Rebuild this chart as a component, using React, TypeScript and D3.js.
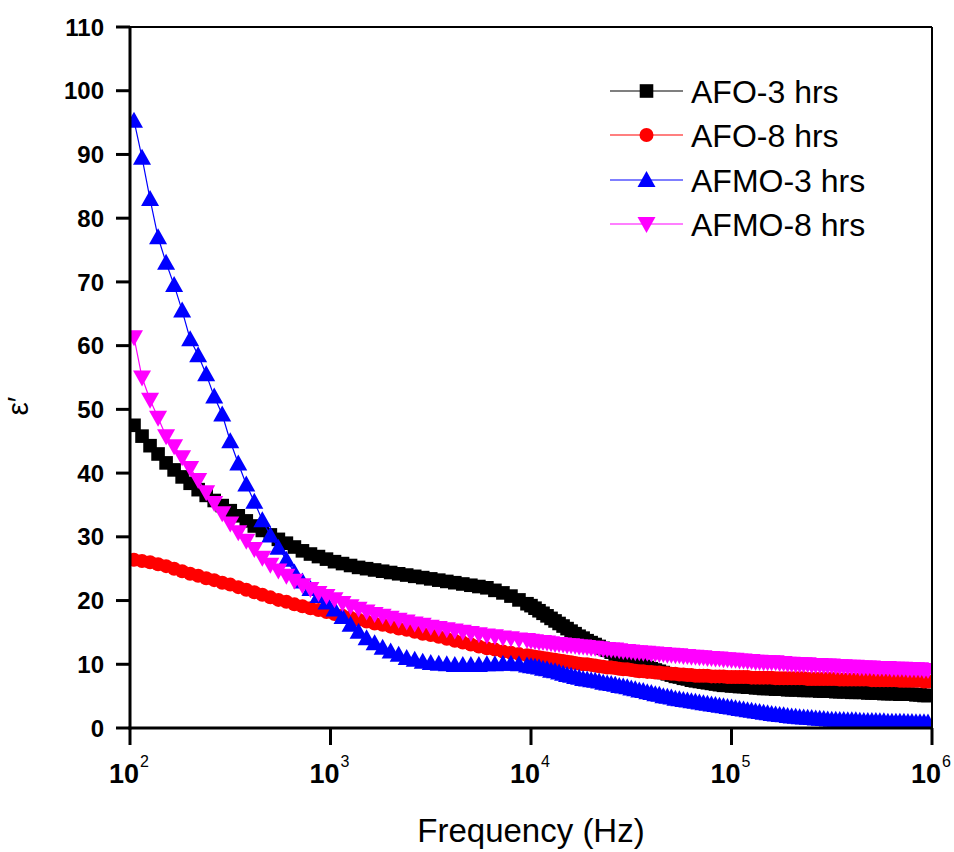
import React from "react";
import * as d3 from "d3";

// Frequency sweep grid (log10 of Hz): sparser below 10^4, denser above, as in the measurement
const LOG_FREQ: number[] = [
  ...d3.range(50).map((i) => +(2.02 + i * 0.04).toFixed(2)),
  ...d3.range(100).map((i) => +(4.0 + i * 0.02).toFixed(2)),
];

const AFO_3: number[] = [
  47.5, 45.8, 44.3, 43, 41.6, 40.5, 39.4, 38.4, 37.4, 36.5,
  35.7, 34.9, 34.1, 33.3, 32.5, 31.7, 31, 30.3, 29.6, 29,
  28.4, 27.8, 27.3, 26.9, 26.5, 26.1, 25.8, 25.5, 25.2, 25,
  24.8, 24.6, 24.4, 24.2, 24, 23.8, 23.6, 23.4, 23.2, 23,
  22.8, 22.6, 22.4, 22.2, 22, 21.6, 21.2, 20.7, 20.1, 19.5,
  19.2, 18.8, 18.4, 18, 17.6, 17.2, 16.8, 16.4, 16, 15.6,
  15.2, 14.8, 14.4, 14.1, 13.7, 13.4, 13.1, 12.8, 12.5, 12.2,
  11.9, 11.6, 11.3, 11, 10.7, 10.5, 10.2, 10, 9.7, 9.5,
  9.3, 9.1, 8.9, 8.7, 8.5, 8.3, 8.1, 8, 7.8, 7.7,
  7.5, 7.4, 7.3, 7.2, 7.1, 7, 6.9, 6.8, 6.7, 6.7,
  6.6, 6.6, 6.5, 6.5, 6.4, 6.4, 6.3, 6.3, 6.2, 6.2,
  6.2, 6.1, 6.1, 6.1, 6, 6, 6, 6, 5.9, 5.9,
  5.9, 5.9, 5.8, 5.8, 5.8, 5.8, 5.7, 5.7, 5.7, 5.7,
  5.6, 5.6, 5.6, 5.6, 5.5, 5.5, 5.5, 5.5, 5.4, 5.4,
  5.4, 5.4, 5.3, 5.3, 5.3, 5.3, 5.2, 5.2, 5.1, 5.1,
];

const AFO_8: number[] = [
  26.4, 26.2, 26, 25.7, 25.4, 25, 24.6, 24.2, 23.9, 23.5,
  23.2, 22.8, 22.5, 22.1, 21.7, 21.3, 20.9, 20.5, 20.1, 19.8,
  19.4, 19.1, 18.8, 18.5, 18.2, 17.9, 17.6, 17.3, 17, 16.7,
  16.4, 16.2, 15.9, 15.6, 15.4, 15.1, 14.8, 14.6, 14.3, 14,
  13.7, 13.4, 13.1, 12.8, 12.5, 12.3, 12, 11.8, 11.6, 11.4,
  11.3, 11.2, 11.1, 11, 10.9, 10.8, 10.7, 10.6, 10.5, 10.4,
  10.3, 10.2, 10.1, 10, 10, 9.9, 9.8, 9.7, 9.6, 9.5,
  9.5, 9.4, 9.3, 9.2, 9.2, 9.1, 9, 8.9, 8.9, 8.8,
  8.8, 8.7, 8.7, 8.6, 8.6, 8.5, 8.5, 8.4, 8.4, 8.3,
  8.3, 8.2, 8.2, 8.2, 8.2, 8.1, 8.1, 8.1, 8.1, 8,
  8, 8, 8, 8, 8, 7.9, 7.9, 7.9, 7.9, 7.9,
  7.9, 7.8, 7.8, 7.8, 7.8, 7.8, 7.8, 7.8, 7.8, 7.7,
  7.7, 7.7, 7.7, 7.7, 7.7, 7.7, 7.7, 7.6, 7.6, 7.6,
  7.6, 7.6, 7.6, 7.6, 7.6, 7.5, 7.5, 7.5, 7.5, 7.5,
  7.5, 7.5, 7.4, 7.4, 7.4, 7.4, 7.4, 7.4, 7.3, 7.3,
];

const AFMO_3: number[] = [
  95.3, 89.5, 83, 77, 73, 69.5, 65.5, 61, 58.5, 55.5,
  52, 49.2, 45, 41.5, 38.2, 35.5, 32.6, 30.2, 28.3, 26.4,
  24.4, 23, 21.8, 20.7, 19.7, 18.6, 17.4, 16.2, 15.1, 14.1,
  13.3, 12.6, 12, 11.5, 11, 10.7, 10.4, 10.2, 10.1, 10,
  9.9, 9.9, 9.9, 9.9, 10, 10, 10.1, 10.1, 10, 9.8,
  9.7, 9.6, 9.5, 9.3, 9.2, 9, 8.9, 8.7, 8.5, 8.3,
  8.2, 8, 7.9, 7.7, 7.6, 7.5, 7.4, 7.3, 7.1, 7,
  6.9, 6.8, 6.6, 6.5, 6.4, 6.2, 6.1, 5.9, 5.8, 5.6,
  5.5, 5.3, 5.2, 5, 4.9, 4.8, 4.6, 4.5, 4.4, 4.3,
  4.2, 4.1, 4, 3.9, 3.8, 3.7, 3.6, 3.5, 3.4, 3.3,
  3.2, 3.1, 3, 2.9, 2.8, 2.7, 2.6, 2.5, 2.4, 2.3,
  2.2, 2.1, 2.05, 2, 1.9, 1.8, 1.75, 1.7, 1.65, 1.6,
  1.55, 1.5, 1.45, 1.4, 1.35, 1.3, 1.3, 1.25, 1.25, 1.2,
  1.2, 1.2, 1.15, 1.1, 1.1, 1.1, 1.1, 1.05, 1.05, 1,
  1, 1, 1, 1, 0.95, 0.95, 0.9, 0.9, 0.9, 0.85,
];

const AFMO_8: number[] = [
  61.3, 55, 51.5, 48.7, 45.8, 44.2, 42.5, 40.8, 38.9, 37,
  35.3, 33.7, 32.1, 30.7, 29.4, 28.1, 26.7, 25.6, 24.7, 23.9,
  23.1, 22.4, 21.8, 21.2, 20.7, 20.2, 19.6, 19.1, 18.7, 18.3,
  17.9, 17.6, 17.3, 17, 16.7, 16.4, 16.2, 15.9, 15.7, 15.5,
  15.3, 15.1, 14.9, 14.7, 14.5, 14.4, 14.2, 14.1, 13.9, 13.8,
  13.7, 13.6, 13.5, 13.5, 13.4, 13.3, 13.2, 13.2, 13.1, 13,
  13, 12.9, 12.8, 12.8, 12.7, 12.6, 12.6, 12.5, 12.4, 12.4,
  12.3, 12.3, 12.2, 12.1, 12.1, 12, 11.9, 11.9, 11.8, 11.8,
  11.7, 11.7, 11.6, 11.6, 11.5, 11.5, 11.4, 11.4, 11.3, 11.3,
  11.2, 11.2, 11.1, 11.1, 11, 11, 10.9, 10.9, 10.8, 10.8,
  10.7, 10.7, 10.6, 10.6, 10.5, 10.5, 10.4, 10.4, 10.3, 10.3,
  10.3, 10.3, 10.2, 10.2, 10.1, 10.1, 10, 10, 10, 10,
  9.9, 9.9, 9.9, 9.8, 9.8, 9.8, 9.7, 9.7, 9.7, 9.6,
  9.6, 9.6, 9.5, 9.5, 9.5, 9.5, 9.4, 9.4, 9.4, 9.4,
  9.3, 9.3, 9.3, 9.3, 9.2, 9.2, 9.2, 9.2, 9.1, 9.1,
];

const SERIES_NAMES = ["AFO-3 hrs", "AFO-8 hrs", "AFMO-3 hrs", "AFMO-8 hrs"];
const SERIES_VALUES = [AFO_3, AFO_8, AFMO_3, AFMO_8];
const SERIES_COLORS = ["#000000", "#ff0000", "#0000ff", "#ff00ff"];
const SERIES_SHAPES = ["square", "circle", "triUp", "triDown"];

const Y_TICKS = [0, 10, 20, 30, 40, 50, 60, 70, 80, 90, 100, 110];
const X_TICK_EXPONENTS = [2, 3, 4, 5, 6];

const FONT = "'Liberation Sans', Arial, sans-serif";

function markerPath(shape: string): string {
  if (shape === "square") return "M-6.8,-6.8H6.8V6.8H-6.8Z";
  if (shape === "circle") return d3.symbol(d3.symbolCircle, Math.PI * 7 * 7)() as string;
  if (shape === "triUp") return "M0,-9L9,7L-9,7Z";
  return "M0,9L9,-7L-9,-7Z";
}

export default function App() {
  const W = 954;
  const H = 852;
  const x = d3.scaleLog().domain([1e2, 1e6]).range([130, 932]);
  const y = d3.scaleLinear().domain([0, 110]).range([728, 27]);

  const line = d3
    .line<[number, number]>()
    .x((d) => x(Math.pow(10, d[0])))
    .y((d) => y(d[1]));

  const legendY = [91, 135, 180, 224];

  return (
    <svg
      width={W}
      height={H}
      viewBox={`0 0 ${W} ${H}`}
      style={{ position: "absolute", left: 0, top: 0, background: "#fff" }}
      fontFamily={FONT}
    >
      <rect x={0} y={0} width={W} height={H} fill="#fff" />
      <defs>
        <clipPath id="plotclip">
          <rect x={x(1e2)} y={y(110)} width={x(1e6) - x(1e2)} height={y(0) - y(110)} />
        </clipPath>
      </defs>

      {/* series */}
      <g clipPath="url(#plotclip)">
        {SERIES_VALUES.map((vals, si) => {
          const pts: [number, number][] = vals.map((v, i) => [LOG_FREQ[i], v]);
          const path = markerPath(SERIES_SHAPES[si]);
          return (
            <g key={si}>
              <path d={line(pts) as string} fill="none" stroke={SERIES_COLORS[si]} strokeWidth={1.2} />
              {pts.map((p, i) => (
                <path
                  key={i}
                  d={path}
                  transform={`translate(${x(Math.pow(10, p[0]))},${y(p[1])})`}
                  fill={SERIES_COLORS[si]}
                />
              ))}
            </g>
          );
        })}
      </g>

      {/* frame */}
      <line x1={x(1e2)} x2={x(1e6)} y1={y(110)} y2={y(110)} stroke="#000" strokeWidth={2} />
      <line x1={x(1e6)} x2={x(1e6)} y1={y(110)} y2={y(0)} stroke="#000" strokeWidth={2} />
      <line x1={x(1e2)} x2={x(1e2)} y1={y(110) - 1} y2={y(0) + 1.5} stroke="#000" strokeWidth={3} />
      <line x1={x(1e2) - 1.5} x2={x(1e6) + 1} y1={y(0)} y2={y(0)} stroke="#000" strokeWidth={3} />

      {/* y ticks */}
      {Y_TICKS.map((t) => (
        <g key={t}>
          <line x1={x(1e2) - 14} x2={x(1e2)} y1={y(t)} y2={y(t)} stroke="#000" strokeWidth={3} />
          <text x={104} y={y(t)} dy="0.36em" textAnchor="end" fontSize={24} fontWeight="bold">
            {t}
          </text>
        </g>
      ))}

      {/* x ticks */}
      {X_TICK_EXPONENTS.map((e) => {
        const xp = x(Math.pow(10, e));
        return (
          <g key={e}>
            <line x1={xp} x2={xp} y1={y(0)} y2={y(0) + 17} stroke="#000" strokeWidth={3} />
            <text x={xp - 6} y={783} textAnchor="middle" fontSize={27} fontWeight="bold">
              10
            </text>
            <text x={xp + 10} y={767} textAnchor="start" fontSize={16}>
              {e}
            </text>
          </g>
        );
      })}

      {/* axis titles */}
      <text x={531} y={842} textAnchor="middle" fontSize={33}>
        Frequency (Hz)
      </text>
      <text transform={`translate(28,406) rotate(-90)`} textAnchor="middle" fontSize={30}>
        ε′
      </text>

      {/* legend */}
      {SERIES_NAMES.map((name, i) => (
        <g key={name}>
          <line x1={610} x2={683} y1={legendY[i]} y2={legendY[i]} stroke={SERIES_COLORS[i]} strokeWidth={1.2} />
          <path
            d={markerPath(SERIES_SHAPES[i])}
            transform={`translate(646.5,${legendY[i]})`}
            fill={SERIES_COLORS[i]}
          />
          <text x={691} y={legendY[i]} dy="0.36em" fontSize={32}>
            {name}
          </text>
        </g>
      ))}
    </svg>
  );
}
